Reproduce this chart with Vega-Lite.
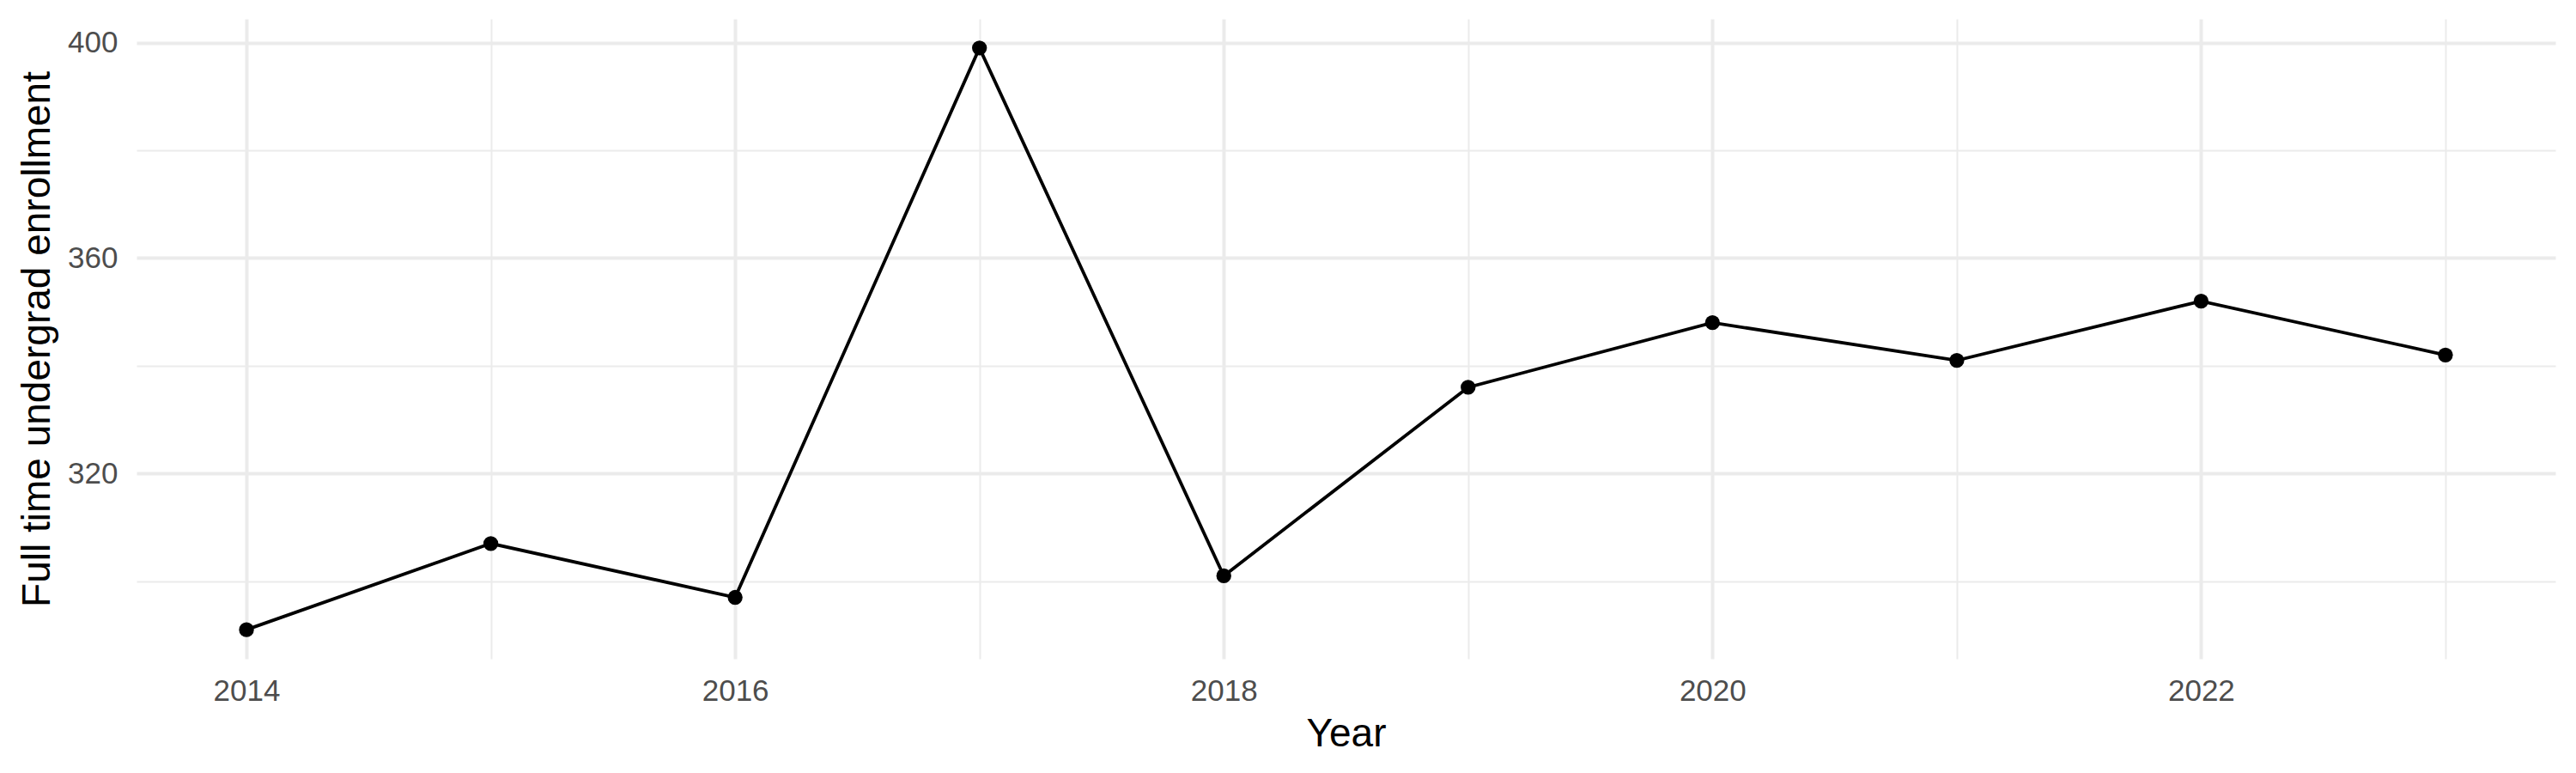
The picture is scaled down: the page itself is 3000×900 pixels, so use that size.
{
  "$schema": "https://vega.github.io/schema/vega-lite/v6.json",
  "description": "Full time undergrad enrollment by year, line with points.",
  "autosize": "none",
  "width": 2817,
  "height": 745,
  "padding": {"left": 159, "top": 22, "right": 24, "bottom": 133},
  "background": "white",
  "config": {
    "view": {"stroke": null},
    "font": "Liberation Sans"
  },
  "data": {
    "values": [
      {"year": 2014, "enrollment": 291},
      {"year": 2015, "enrollment": 307},
      {"year": 2016, "enrollment": 297},
      {"year": 2017, "enrollment": 399},
      {"year": 2018, "enrollment": 301},
      {"year": 2019, "enrollment": 336},
      {"year": 2020, "enrollment": 348},
      {"year": 2021, "enrollment": 341},
      {"year": 2022, "enrollment": 352},
      {"year": 2023, "enrollment": 342}
    ]
  },
  "layer": [
    {
      "mark": {"type": "line", "color": "black", "strokeWidth": 3.8},
      "encoding": {
        "x": {
          "field": "year", "type": "quantitative",
          "scale": {"domain": [2013.55, 2023.45], "nice": false, "zero": false},
          "axis": {
            "orient": "bottom", "values": [2015, 2017, 2019, 2021, 2023],
            "labels": false, "ticks": false, "domain": false, "title": null,
            "grid": true, "gridColor": "#EBEBEB", "gridWidth": 2
          }
        },
        "y": {
          "field": "enrollment", "type": "quantitative",
          "scale": {"domain": [285.6, 404.4], "nice": false, "zero": false},
          "axis": {
            "orient": "left", "values": [300, 340, 380],
            "labels": false, "ticks": false, "domain": false, "title": null,
            "grid": true, "gridColor": "#EBEBEB", "gridWidth": 2
          }
        }
      }
    },
    {
      "mark": {"type": "point", "filled": true, "color": "black", "opacity": 1, "size": 300},
      "encoding": {
        "x": {
          "field": "year", "type": "quantitative",
          "scale": {"domain": [2013.55, 2023.45], "nice": false, "zero": false},
          "axis": {
            "orient": "bottom", "values": [2014, 2016, 2018, 2020, 2022], "format": "d",
            "ticks": false, "domain": false,
            "grid": true, "gridColor": "#EBEBEB", "gridWidth": 4,
            "labelFontSize": 35, "labelColor": "#4D4D4D", "labelPadding": 20,
            "title": "Year", "titleFontSize": 46, "titleFontWeight": "normal", "titleColor": "black",
            "titleBaseline": "alphabetic", "titleY": 101
          }
        },
        "y": {
          "field": "enrollment", "type": "quantitative",
          "scale": {"domain": [285.6, 404.4], "nice": false, "zero": false},
          "axis": {
            "orient": "left", "values": [320, 360, 400],
            "ticks": false, "domain": false,
            "grid": true, "gridColor": "#EBEBEB", "gridWidth": 4,
            "labelFontSize": 35, "labelColor": "#4D4D4D", "labelPadding": 22,
            "title": "Full time undergrad enrollment", "titleFontSize": 46,
            "titleFontWeight": "normal", "titleColor": "black",
            "titleBaseline": "alphabetic", "titleAlign": "center", "titleAngle": -90,
            "titleX": -102, "titleY": 372.5
          }
        }
      }
    }
  ],
  "resolve": {"axis": {"x": "independent", "y": "independent"}}
}
